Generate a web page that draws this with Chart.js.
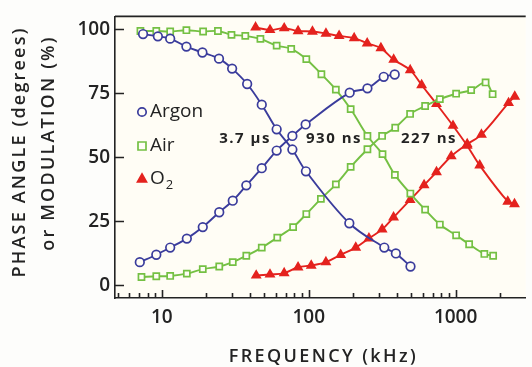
<!DOCTYPE html>
<html lang="en">
<head>
<meta charset="UTF-8">
<title>Phase angle and modulation vs frequency</title>
<script src="https://cdn.jsdelivr.net/npm/chart.js"></script>
<style>
  html, body {margin:0; background:#fdfdfb;}
  #wrap {width:532px; height:367px;}
</style>
</head>
<body>
<div id="wrap"><canvas id="grafico"></canvas></div>
<script>
// frequency in kHz, phase in degrees, modulation in %
const argonModFreq = [7.45, 9.4, 11.4, 14.7, 18.9, 24.5, 30.1, 38.1, 47.9, 60.5, 77.4, 95.7, 189, 327, 392, 493];
const argonMod     = [98.1, 97.2, 96.3, 93.2, 90.9, 88.5, 84.6, 78.6, 70.5, 60.9, 53.0, 44.5, 24.2, 14.7, 12.4, 7.3];
const argonPhaseFreq = [7.08, 9.17, 11.4, 14.8, 19.0, 24.6, 30.4, 37.6, 47.9, 60.5, 77.4, 95.3, 190, 251, 324, 385];
const argonPhase     = [9.0, 11.9, 14.7, 18.2, 22.7, 28.5, 33.0, 39.0, 45.7, 52.6, 58.3, 62.8, 75.2, 76.9, 81.4, 82.3];

const airModFreq = [7.15, 9.17, 11.4, 14.7, 19.1, 24.1, 29.8, 37.0, 46.9, 60.5, 76.0, 96.3, 122, 153, 193, 251, 318, 386, 492, 620, 781, 1008, 1236, 1569, 1801];
const airMod     = [99.3, 99.3, 99.1, 99.6, 99.1, 99.3, 97.8, 97.4, 96.2, 93.6, 92.3, 88.3, 82.4, 76.4, 68.8, 58.3, 51.2, 43.1, 35.8, 29.5, 23.7, 19.5, 16.0, 12.2, 11.5];
const airPhaseFreq = [7.27, 9.17, 11.4, 14.8, 19.0, 24.6, 30.4, 37.6, 47.9, 61.1, 78.3, 96.3, 121, 153, 193, 251, 316, 388, 490, 620, 781, 1008, 1276, 1600, 1786];
const airPhase     = [3.2, 3.5, 3.6, 4.5, 6.3, 7.3, 9.0, 11.5, 14.7, 18.6, 22.7, 27.8, 33.7, 39.4, 46.2, 53.1, 58.3, 61.5, 66.9, 70.0, 72.7, 74.8, 76.2, 79.2, 74.6];

const o2ModFreq = [43.5, 54.5, 68.1, 84.6, 106, 131, 161, 204, 250, 310, 379, 491, 587, 741, 960, 1199, 1459, 2264, 2517];
const o2Mod     = [100.7, 99.7, 100.4, 99.3, 99.1, 98.3, 97.4, 96.5, 94.5, 92.6, 88.1, 84.0, 78.2, 70.8, 62.3, 54.5, 46.8, 32.7, 31.7];
const o2PhaseFreq = [43.9, 54.5, 68.1, 84.6, 104, 131, 165, 209, 257, 316, 378, 490, 610, 741, 934, 1199, 1500, 2293, 2527];
const o2Phase     = [3.8, 4.2, 4.7, 7.0, 7.7, 9.0, 11.9, 14.7, 18.3, 21.8, 26.5, 33.3, 39.1, 44.2, 50.4, 55.1, 58.8, 71.2, 73.7];

const xTicks = [5, 6, 7, 8, 9, 10, 20, 30, 40, 50, 60, 70, 80, 90, 100, 200, 300, 400, 500, 600, 700, 800, 900, 1000, 2000];
const xLabels = [10, 100, 1000];
const yTicks = [0, 25, 50, 75, 100];
const lifetimes = ['3.7 μs', '930 ns', '227 ns'];
const xTitle = 'FREQUENCY (kHz)';
const yTitle = ['PHASE ANGLE (degrees)', 'or MODULATION (%)'];

const BLUE = '#3a3c9c', GREEN = '#74c043', RED = '#e4221e', INK = '#232323';
const FONT = "'Open Sans', sans-serif";

const pts = (xs, ys) => xs.map((x, i) => ({x, y: ys[i]}));

function serie(xs, ys, color, style) {
  return {
    data: pts(xs, ys),
    borderColor: color,
    borderWidth: 1.9,
    tension: 0.35,
    pointStyle: style,
    pointRadius: style === 'triangle' ? 4.6 : 4.3,
    pointBorderWidth: 1.7,
    pointBorderColor: color,
    pointBackgroundColor: style === 'triangle' ? color : '#fffdf5',
    clip: false
  };
}

// inward ticks, top border, titles, inner legend and lifetime labels
const decor = {
  id: 'decor',
  beforeDraw(c) {
    const {ctx, chartArea: a} = c;
    ctx.save();
    ctx.fillStyle = '#fffdf5';
    ctx.fillRect(a.left, a.top, a.right - a.left, a.bottom - a.top);
    ctx.restore();
  },
  afterDraw(c) {
    const {ctx, chartArea: a} = c;
    const sx = c.scales.x, sy = c.scales.y;
    ctx.save();
    ctx.strokeStyle = INK;
    ctx.lineWidth = 1.6;
    ctx.beginPath();
    ctx.moveTo(a.left, a.top); ctx.lineTo(a.right, a.top);
    xTicks.forEach(v => {
      const px = Math.round(sx.getPixelForValue(v)) + 0.5;
      const len = xLabels.includes(v) ? 8 : 5;
      ctx.moveTo(px, a.bottom); ctx.lineTo(px, a.bottom - len);
    });
    yTicks.forEach(v => {
      const py = Math.round(sy.getPixelForValue(v)) + 0.5;
      ctx.moveTo(a.left, py); ctx.lineTo(a.left + 9, py);
    });
    ctx.stroke();

    // axis titles
    ctx.fillStyle = INK;
    ctx.textAlign = 'center';
    ctx.textBaseline = 'middle';
    ctx.font = `600 18px ${FONT}`;
    ctx.letterSpacing = '2.4px';
    ctx.fillText(xTitle, (a.left + a.right) / 2 + 3, 357);
    ctx.letterSpacing = '2.2px';
    ctx.save();
    ctx.translate(20, 152);
    ctx.rotate(-Math.PI / 2);
    ctx.fillText(yTitle[0], 0, 0);
    ctx.restore();
    ctx.save();
    ctx.translate(49, 143);
    ctx.rotate(-Math.PI / 2);
    ctx.fillText(yTitle[1], 0, 0);
    ctx.restore();
    ctx.letterSpacing = '0px';

    // legend
    const lx = a.left + 27;
    const rows = [['Argon', BLUE, 'circle', 112], ['Air', GREEN, 'rect', 146], ['O', RED, 'triangle', 179]];
    ctx.font = `500 19px ${FONT}`;
    ctx.textAlign = 'left';
    rows.forEach(([txt, col, st, y]) => {
      ctx.save();
      ctx.strokeStyle = col;
      ctx.fillStyle = st === 'triangle' ? col : '#fffdf5';
      ctx.lineWidth = 1.7;
      ctx.beginPath();
      if (st === 'circle') ctx.arc(lx, y, 4.2, 0, Math.PI * 2);
      else if (st === 'rect') ctx.rect(lx - 4, y - 4, 8, 8);
      else { ctx.moveTo(lx, y - 5); ctx.lineTo(lx + 4.5, y + 3); ctx.lineTo(lx - 4.5, y + 3); ctx.closePath(); }
      ctx.fill(); ctx.stroke();
      ctx.restore();
      ctx.fillStyle = INK;
      ctx.fillText(txt, lx + 8, y);
      if (txt === 'O') {
        const w = ctx.measureText('O').width;
        ctx.font = `500 13px ${FONT}`;
        ctx.fillText('2', lx + 9 + w, y + 6);
        ctx.font = `500 19px ${FONT}`;
      }
    });

    // lifetimes
    ctx.font = `bold 15px ${FONT}`;
    ctx.textAlign = 'center';
    ctx.letterSpacing = '1.5px';
    [[245, 139], [334, 139], [429, 139]].forEach(([x, y], i) => ctx.fillText(lifetimes[i], x, y));
    ctx.restore();
  }
};

new Chart(document.getElementById('grafico'), {
  type: 'line',
  data: {
    datasets: [
      serie(argonModFreq, argonMod, BLUE, 'circle'),
      serie(argonPhaseFreq, argonPhase, BLUE, 'circle'),
      serie(airModFreq, airMod, GREEN, 'rect'),
      serie(airPhaseFreq, airPhase, GREEN, 'rect'),
      serie(o2ModFreq, o2Mod, RED, 'triangle'),
      serie(o2PhaseFreq, o2Phase, RED, 'triangle')
    ]
  },
  options: {
    responsive: true,
    maintainAspectRatio: false,
    animation: false,
    layout: {padding: {top: 12, right: 0, left: 0, bottom: 0}},
    plugins: {legend: {display: false}, tooltip: {enabled: false}},
    scales: {
      x: {
        type: 'logarithmic',
        min: 4.8, max: 3000,
        afterBuildTicks: s => { s.ticks = xTicks.map(v => ({value: v})); },
        afterFit: s => { s.height = 69; },
        grid: {display: false, drawTicks: false},
        border: {display: true, color: INK, width: 1.6},
        ticks: {
          autoSkip: false, maxRotation: 0, padding: 8, color: INK,
          font: {family: FONT, size: 19, weight: 600},
          callback: v => xLabels.includes(v) ? String(v) : ''
        }
      },
      y: {
        min: -5, max: 105,
        afterBuildTicks: s => { s.ticks = yTicks.map(v => ({value: v})); },
        afterFit: s => { s.width = 115; },
        grid: {display: false, drawTicks: false},
        border: {display: true, color: INK, width: 1.6},
        ticks: {
          padding: 5, color: INK,
          font: {family: FONT, size: 19, weight: 600}
        }
      }
    }
  },
  plugins: [decor]
});
</script>
</body>
</html>
